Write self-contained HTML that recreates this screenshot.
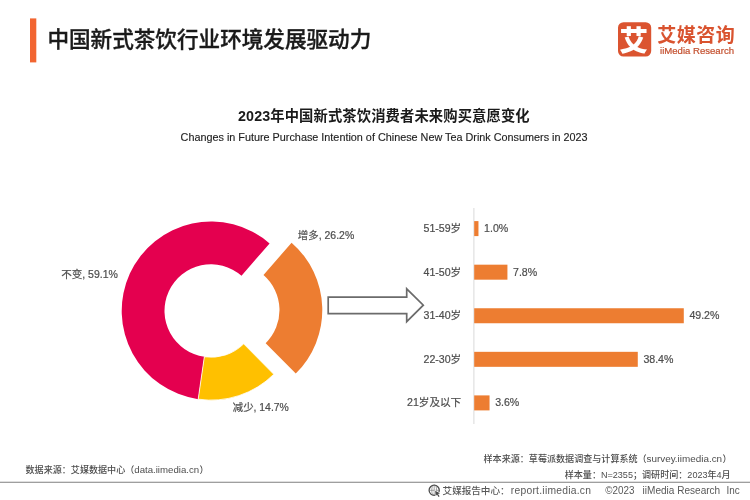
<!DOCTYPE html>
<html lang="zh-CN"><head><meta charset="utf-8"><title>中国新式茶饮行业环境发展驱动力</title>
<style>
html,body{margin:0;padding:0;background:#fff;}
body{width:750px;height:500px;overflow:hidden;font-family:"Liberation Sans", "Noto Sans CJK SC", sans-serif;}
svg{display:block;}
text{font-family:"Liberation Sans", "Noto Sans CJK SC", sans-serif;}
.lbl{font-size:10.6px;fill:#4d4d4d;stroke:#4d4d4d;stroke-width:0.2px;}
.ft{font-size:9.07px;fill:#4d4d4d;font-weight:500;}
</style></head><body>
<svg width="750" height="500" viewBox="0 0 750 500">
<rect width="750" height="500" fill="#fff"/>
<rect x="30" y="18.4" width="6.3" height="44" fill="#f26531"/>
<text x="47.4" y="47" font-size="21.6" font-weight="500" fill="#1a1a1a" stroke="#1a1a1a" stroke-width="0.35">中国新式茶饮行业环境发展驱动力</text>
<rect x="618" y="22.2" width="33.2" height="34.3" rx="5.5" fill="#db5430"/>
<text x="633.8" y="50.8" font-size="28.5" font-weight="900" fill="#fff" text-anchor="middle">艾</text>
<text x="657.3" y="41.5" font-size="19" font-weight="700" fill="#d9532f" textLength="77.5" lengthAdjust="spacing">艾媒咨询</text>
<text x="660" y="53.7" font-size="9.3" fill="#c4502f" stroke="#c4502f" stroke-width="0.2" textLength="74" lengthAdjust="spacingAndGlyphs">iiMedia Research</text>
<text x="238" y="121" font-size="14.3" font-weight="700" fill="#1a1a1a" textLength="291.6" lengthAdjust="spacing">2023年中国新式茶饮消费者未来购买意愿变化</text>
<text x="180.6" y="141.3" font-size="11" fill="#1f1f1f" stroke="#1f1f1f" stroke-width="0.15" textLength="407" lengthAdjust="spacingAndGlyphs">Changes in Future Purchase Intention of Chinese New Tea Drink Consumers in 2023</text>
<path d="M198.20 399.18A89.3 89.3 0 1 1 269.59 243.40L241.51 275.71A46.5 46.5 0 1 0 204.34 356.82Z" fill="#e4004f"/>
<path d="M273.79 374.30A89.3 89.3 0 0 1 198.20 399.18L204.34 356.82A46.5 46.5 0 0 0 243.70 343.86Z" fill="#ffc000" stroke="#fff" stroke-width="0.8"/>
<path d="M291.57 242.70A89.3 89.3 0 0 1 295.78 373.59L265.68 343.16A46.5 46.5 0 0 0 263.50 275.00Z" fill="#ed7d31"/>
<text class="lbl" x="61.2" y="277.8" textLength="56.8" lengthAdjust="spacingAndGlyphs">不变, 59.1%</text>
<text class="lbl" x="297.8" y="239" textLength="56.4" lengthAdjust="spacingAndGlyphs">增多, 26.2%</text>
<text class="lbl" x="232.8" y="411" textLength="56" lengthAdjust="spacingAndGlyphs">减少, 14.7%</text>
<path d="M328.2 297.1H406.7V288.8L423.3 305.2L406.7 321.6V313.6H328.2Z" fill="#fff" stroke="#6b6b6b" stroke-width="1.7" stroke-linejoin="miter"/>
<line x1="473.9" y1="208" x2="473.9" y2="424" stroke="#d9d9d9" stroke-width="1"/>
<rect x="474.2" y="221.10" width="4.26" height="15" fill="#ed7d31"/>
<text class="lbl" x="461.2" y="232.10" text-anchor="end">51-59岁</text>
<text class="lbl" x="484.06" y="232.10">1.0%</text>
<rect x="474.2" y="264.68" width="33.23" height="15" fill="#ed7d31"/>
<text class="lbl" x="461.2" y="275.68" text-anchor="end">41-50岁</text>
<text class="lbl" x="513.03" y="275.68">7.8%</text>
<rect x="474.2" y="308.25" width="209.59" height="15" fill="#ed7d31"/>
<text class="lbl" x="461.2" y="319.25" text-anchor="end">31-40岁</text>
<text class="lbl" x="689.39" y="319.25">49.2%</text>
<rect x="474.2" y="351.83" width="163.58" height="15" fill="#ed7d31"/>
<text class="lbl" x="461.2" y="362.83" text-anchor="end">22-30岁</text>
<text class="lbl" x="643.38" y="362.83">38.4%</text>
<rect x="474.2" y="395.40" width="15.34" height="15" fill="#ed7d31"/>
<text class="lbl" x="461.2" y="406.40" text-anchor="end">21岁及以下</text>
<text class="lbl" x="495.14" y="406.40">3.6%</text>
<text class="ft" x="25.5" y="472.9" textLength="108.8" lengthAdjust="spacing">数据来源：艾媒数据中心（</text>
<text class="ft" x="134.3" y="472.9" font-size="9.6" textLength="64.8" lengthAdjust="spacingAndGlyphs" style="font-size:9.6px">data.iimedia.cn</text>
<text class="ft" x="199.6" y="472.9">）</text>
<text class="ft" x="483.5" y="461.8" textLength="163.2" lengthAdjust="spacing">样本来源：草莓派数据调查与计算系统（</text>
<text class="ft" x="646.5" y="461.8" textLength="75.6" lengthAdjust="spacingAndGlyphs" style="font-size:9.6px">survey.iimedia.cn</text>
<text class="ft" x="722.4" y="461.8">）</text>
<text class="ft" x="564.7" y="477.6" textLength="166" lengthAdjust="spacingAndGlyphs">样本量：N=2355；调研时间：2023年4月</text>
<line x1="0" y1="482.2" x2="750" y2="482.2" stroke="#7f7f7f" stroke-width="1.1"/>
<g fill="none" stroke="#4a4a4a"><circle cx="434.2" cy="490.3" r="5.1" stroke-width="1.25"/><ellipse cx="434.2" cy="490.3" rx="2.4" ry="5.1" stroke-width="0.6" stroke="#6a6a6a"/><path d="M429.1 490.3H439.3M434.2 485.2V495.4" stroke-width="0.6" stroke="#6a6a6a"/></g>
<path d="M435.2 490.8L440 493.3L438 493.9L439.6 496.3L438.5 497L437 494.6L435.6 496Z" fill="#4a4a4a" stroke="#fff" stroke-width="1.1" paint-order="stroke"/>
<text x="442.6" y="494.2" font-size="9.6" font-weight="500" fill="#595959" textLength="67" lengthAdjust="spacing">艾媒报告中心：</text>
<text x="510.8" y="494.2" font-size="10.3" font-weight="500" fill="#595959" textLength="80.2" lengthAdjust="spacing">report.iimedia.cn</text>
<text x="605.2" y="494.2" font-size="10" font-weight="500" fill="#595959" textLength="29.2" lengthAdjust="spacingAndGlyphs">©2023</text>
<text x="642.6" y="494.2" font-size="10" font-weight="500" fill="#595959" textLength="77.6" lengthAdjust="spacingAndGlyphs">iiMedia Research</text>
<text x="726.6" y="494.2" font-size="10" font-weight="500" fill="#595959" textLength="13.2" lengthAdjust="spacingAndGlyphs">Inc</text>
</svg>
</body></html>
